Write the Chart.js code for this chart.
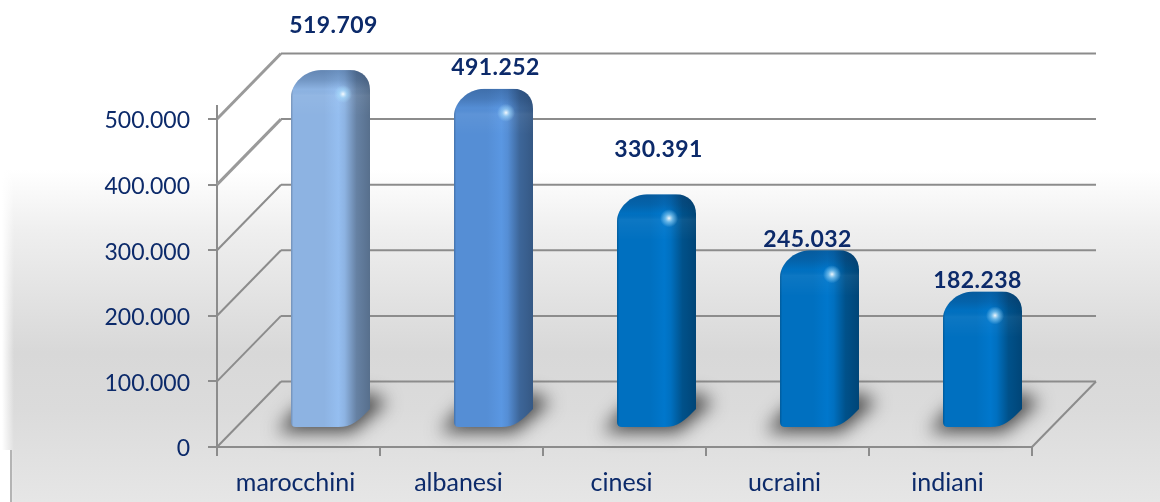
<!DOCTYPE html>
<html>
<head>
<meta charset="utf-8">
<style>html,body{margin:0;padding:0;background:#fff}canvas{display:block}</style>
<script src="https://cdn.jsdelivr.net/npm/chart.js@4"></script>
</head>
<body>
<canvas id="c" width="1160" height="502"></canvas>
<script>
const categories = ['marocchini','albanesi','cinesi','ucraini','indiani'];
const values = [519709,491252,330391,245032,182238];
const barColors = ['#8DB3E2','#558ED5','#0070C0','#0070C0','#0070C0'];
const labelShiftX = [3,2,2,-12,-5];
const labelGapY = [45,22,45,11,11];

const DX = 64, DY = 65.5, GRID = '#8C8C8C', TEXT = '#0C2A6A';
const fmt = v => String(v).replace(/\B(?=(\d{3})+$)/g,'.');
function shade(hex,f){
  const n=parseInt(hex.slice(1),16);
  const c=[n>>16,(n>>8)&255,n&255].map(v=>Math.min(255,Math.round(v*f)));
  return `rgb(${c[0]},${c[1]},${c[2]})`;
}

Chart.BarElement.prototype.draw = function(ctx){
  const col = this.options.backgroundColor;
  const w = this.width, L = this.x + 32 - w/2, R = L + w;
  const B = this.base - 19, T = this.y - 36;
  ctx.save();
  // floor shadow
  ctx.save();
  ctx.filter = 'blur(9px)';
  ctx.fillStyle = 'rgba(45,45,45,0.85)';
  ctx.beginPath();
  ctx.moveTo(L-14,B+5); ctx.lineTo(R-18,B+5); ctx.lineTo(R+17,B-25);
  ctx.lineTo(R,B-34); ctx.lineTo(L+8,B-20);
  ctx.closePath(); ctx.fill();
  ctx.restore();
  // silhouette
  ctx.beginPath();
  ctx.moveTo(L,T+27);
  ctx.bezierCurveTo(L,T+14,L+14,T,L+30,T);
  ctx.lineTo(R-20,T);
  ctx.bezierCurveTo(R-8,T,R,T+8,R,T+20);
  ctx.lineTo(R,B-18);
  ctx.bezierCurveTo(R-12,B-6,R-18,B,R-32,B);
  ctx.lineTo(L+5,B);
  ctx.quadraticCurveTo(L,B,L,B-5);
  ctx.closePath();
  ctx.save();
  ctx.clip();
  const g = ctx.createLinearGradient(L,0,R,0);
  g.addColorStop(0,shade(col,.8));
  g.addColorStop(.03,col);
  g.addColorStop(.42,col);
  g.addColorStop(.6,shade(col,1.06));
  g.addColorStop(.68,col);
  g.addColorStop(.83,shade(col,.72));
  g.addColorStop(1,shade(col,.62));
  ctx.fillStyle = g;
  ctx.fillRect(L,T,w,B-T);
  // top cap
  const t = ctx.createLinearGradient(0,T,0,T+46);
  t.addColorStop(0,'rgba(20,50,90,.34)');
  t.addColorStop(.22,'rgba(20,50,90,.22)');
  t.addColorStop(.42,'rgba(20,50,90,0)');
  t.addColorStop(.55,'rgba(255,255,255,.05)');
  t.addColorStop(1,'rgba(255,255,255,0)');
  ctx.fillStyle = t;
  ctx.fillRect(L,T,w,46);
  // specular
  const sx = R-27, sy = T+24;
  const r = ctx.createRadialGradient(sx,sy,0,sx,sy,9);
  r.addColorStop(0,'rgba(255,255,255,.95)');
  r.addColorStop(.45,'rgba(170,225,255,.55)');
  r.addColorStop(1,'rgba(170,225,255,0)');
  ctx.fillStyle = r;
  ctx.fillRect(sx-10,sy-10,20,20);
  ctx.restore();
  ctx.restore();
};

const stage = {
  id:'stage',
  beforeDraw(chart){
    const {ctx,width,height} = chart;
    ctx.save();
    ctx.fillStyle='#fff'; ctx.fillRect(0,0,width,height);
    const g = ctx.createLinearGradient(0,170,0,height);
    g.addColorStop(0,'#ffffff');
    g.addColorStop(.18,'#EFEFEF');
    g.addColorStop(.55,'#D8D8D8');
    g.addColorStop(.72,'#DBDBDB');
    g.addColorStop(1,'#E6E6E6');
    ctx.fillStyle=g; ctx.fillRect(0,170,width,height-170);
    const e = ctx.createLinearGradient(2,0,14,0);
    e.addColorStop(0,'rgba(255,255,255,1)');
    e.addColorStop(1,'rgba(255,255,255,0)');
    ctx.fillStyle=e; ctx.fillRect(0,170,14,height-170);
    ctx.fillStyle='#fff'; ctx.fillRect(0,450,10,52);
    ctx.fillStyle='#B4B4B4'; ctx.fillRect(10,450,2,52);
    ctx.restore();
  },
  beforeDatasetsDraw(chart){
    const {ctx} = chart, y = chart.scales.y, x = chart.scales.x;
    const left = x.left, right = x.right;
    ctx.save();
    ctx.strokeStyle = GRID; ctx.lineCap='butt';
    y.ticks.forEach(tk=>{
      const p = y.getPixelForValue(tk.value);
      ctx.lineWidth = 2;
      ctx.beginPath(); ctx.moveTo(left+DX,p-DY); ctx.lineTo(right+DX,p-DY); ctx.stroke();
      ctx.lineWidth = tk.value>=400000 ? 3 : 2;
      ctx.strokeStyle = tk.value>=400000 ? '#9A9A9A' : GRID;
      ctx.beginPath(); ctx.moveTo(left,p); ctx.lineTo(left+DX,p-DY); ctx.stroke();
      ctx.strokeStyle = GRID;
    });
    const p0 = y.getPixelForValue(0);
    ctx.lineWidth = 2;
    ctx.beginPath(); ctx.moveTo(right,p0); ctx.lineTo(right+DX,p0-DY); ctx.stroke();
    ctx.beginPath(); ctx.moveTo(left,y.top); ctx.lineTo(left,y.top-14); ctx.stroke();
    ctx.restore();
  },
  afterDatasetsDraw(chart){
    const {ctx} = chart, els = chart.getDatasetMeta(0).data;
    ctx.save();
    ctx.font = 'bold 23px Lato'; ctx.fillStyle = TEXT;
    ctx.textAlign='center'; ctx.textBaseline='alphabetic';
    if ('letterSpacing' in ctx) ctx.letterSpacing='0.4px';
    els.forEach((el,i)=>{
      ctx.fillText(fmt(values[i]), el.x+32+labelShiftX[i], el.y-36-labelGapY[i]+8);
    });
    ctx.restore();
  }
};

new Chart(document.getElementById('c'),{
  type:'bar',
  data:{labels:categories,datasets:[{data:values,backgroundColor:barColors,barPercentage:.485,categoryPercentage:1,clip:false}]},
  plugins:[stage],
  options:{
    responsive:false,animation:false,
    layout:{padding:{top:119,right:128,left:0,bottom:0}},
    plugins:{legend:{display:false},tooltip:{enabled:false},title:{display:false}},
    scales:{
      x:{
        afterFit(s){s.height=55;},
        grid:{drawOnChartArea:false,offset:true,color:GRID,lineWidth:2,tickLength:9,tickColor:GRID},
        border:{color:GRID,width:2},
        ticks:{color:TEXT,font:{family:'Lato',size:25},padding:12,maxRotation:0,labelOffset:-3}
      },
      y:{
        min:0,max:500000,
        afterFit(s){s.width=217;},
        grid:{drawOnChartArea:false,color:GRID,lineWidth:2,tickLength:9,tickColor:GRID},
        border:{color:GRID,width:2},
        ticks:{stepSize:100000,color:TEXT,font:{family:'Lato',size:23},padding:18,labelOffset:2,callback:v=>fmt(v)}
      }
    }
  }
});
</script>
</body>
</html>
